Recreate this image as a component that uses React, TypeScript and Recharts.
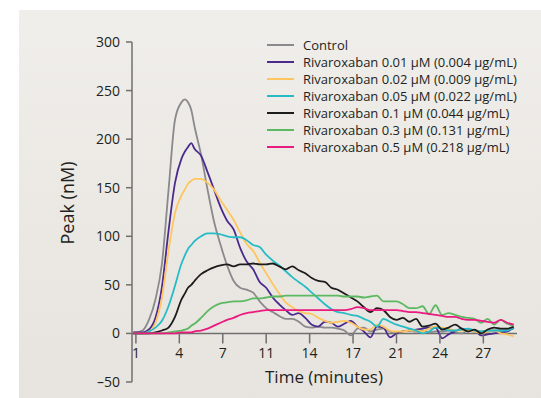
import { LineChart, Line, XAxis, YAxis, ReferenceLine, Legend } from 'recharts';

// time in minutes (samples)
const time = [
  0.8, 1, 1.5, 2, 2.5, 3, 3.5, 4, 4.5, 4.75, 5, 5.25,
  5.5, 6, 6.5, 7, 7.5, 8, 8.5, 9, 9.5, 10,
  10.5, 11, 11.5, 12, 12.5, 13, 13.5, 14, 14.5, 15,
  15.5, 16, 16.5, 17, 17.5, 18, 18.5, 19, 19.5, 20,
  20.5, 21, 21.5, 22, 22.5, 23, 23.5, 24, 24.5, 25,
  25.5, 26, 26.5, 27, 27.5, 28, 28.5, 29, 29.5, 30,
];

const control = [
  1, 1, 3, 14, 35, 72, 147, 220, 238, 241, 238, 230,
  213, 184, 148, 115, 91, 70, 54, 47, 45, 42,
  33, 26, 22, 18, 15, 15, 12, 7, 6, 7,
  6, 6, 5, 3, -2, 5, 6, 2, 4, 5,
  2, 0, 2, 3, 2, 3, 1, 2, 2, 3,
  1, 0, 3, 2, 2, 2, 3, 3, 4, 5,
];
const riva001 = [
  1, 1, 1, 4, 16, 48, 105, 155, 180, 187, 192, 196,
  190, 183, 166, 148, 130, 116, 107, 88, 74, 66,
  53, 47, 37, 30, 24, 19, 21, 16, 9, 7,
  12, 11, 7, 10, 13, 7, 2, -4, 7, 6,
  -4, 0, 2, 3, 4, 5, 6, 6, -5, -1,
  2, 5, 4, 3, -2, -1, 0, 1, 2, 6,
];
const riva002 = [
  0, 0, 0, 2, 11, 37, 85, 124, 142, 148, 154, 157,
  159, 159, 155, 148, 137, 127, 117, 104, 92, 85,
  73, 62, 51, 41, 32, 27, 23, 21, 20, 16,
  13, 11, 12, 13, 11, 7, 4, 4, 9, 7,
  3, 2, 2, 3, 3, 2, 5, 7, 6, 5,
  3, 3, 3, 2, 0, 2, 3, 0, -1, -3,
];
const riva005 = [
  0, 0, 0, 2, 6, 13, 28, 49, 72, 80, 87, 91,
  95, 100, 103, 103, 102, 100, 99, 99, 96, 91,
  89, 81, 75, 70, 64, 58, 53, 48, 42, 36,
  30, 25, 22, 21, 19, 18, 15, 12, 7, 15,
  12, 9, 7, 5, 3, 0, 2, 6, 5, 3,
  3, 4, 5, 3, 2, 3, 3, 3, 3, 6,
];
const riva01 = [
  0, 0, 0, 0, 1, 3, 6, 17, 35, 41, 47, 50,
  54, 61, 65, 68, 70, 71, 69, 71, 71, 72,
  71, 71, 72, 69, 66, 69, 65, 62, 57, 54,
  53, 47, 45, 41, 37, 33, 27, 22, 26, 24,
  17, 14, 16, 12, 15, 7, 8, 10, 4, 6,
  9, 5, 2, 4, 0, 4, 6, 5, 5, 7,
];
const riva03 = [
  0, 0, 0, 0, 0, 0, 1, 2, 3, 4, 5, 8,
  10, 16, 23, 28, 31, 32, 33, 33, 34, 36,
  36, 37, 38, 38, 39, 39, 39, 39, 39, 39,
  39, 39, 39, 38, 38, 38, 37, 38, 39, 33,
  33, 33, 30, 26, 26, 28, 20, 29, 19, 21,
  19, 17, 16, 15, 11, 15, 9, 14, 10, 8,
];
const riva05 = [
  0, 0, 0, 0, 0, 0, 0, 0, 1, 1, 1, 1,
  2, 3, 5, 8, 11, 14, 16, 19, 21, 22,
  23, 24, 24, 24, 24, 24, 24, 24, 24, 24,
  24, 24, 24, 24, 25, 27, 26, 24, 24, 24,
  24, 24, 23, 22, 22, 21, 20, 19, 18, 17,
  17, 15, 14, 14, 13, 12, 11, 14, 11, 9,
];

const seriesKeys = ['control', 'r001', 'r002', 'r005', 'r01', 'r03', 'r05'];
const seriesNames = [
  'Control',
  'Rivaroxaban 0.01 µM (0.004 µg/mL)',
  'Rivaroxaban 0.02 µM (0.009 µg/mL)',
  'Rivaroxaban 0.05 µM (0.022 µg/mL)',
  'Rivaroxaban 0.1 µM (0.044 µg/mL)',
  'Rivaroxaban 0.3 µM (0.131 µg/mL)',
  'Rivaroxaban 0.5 µM (0.218 µg/mL)',
];
const seriesColors = ['#8a8a8c', '#4b2a8e', '#ffc55e', '#25bcc6', '#1c1c1c', '#5db862', '#ea1a7f'];
const seriesValues = [control, riva001, riva002, riva005, riva01, riva03, riva05];

// ticks sit every 10/3 minutes, labels are the truncated minute
const xTicks = [1, 4.333, 7.667, 11, 14.333, 17.667, 21, 24.333, 27.667];
const yTicks = [-50, 0, 50, 100, 150, 200, 250, 300];

const data = time.map((t, i) => {
  const row: Record<string, number> = { t };
  seriesKeys.forEach((k, j) => { row[k] = seriesValues[j][i]; });
  return row;
});

const W = 541;
const H = 398;
const X_AXIS_H = 16;
const MARGIN = { top: 42, right: 24, left: 72, bottom: 0 };
const Y_MIN = -50;
const Y_MAX = 300;
const PLOT_H = H - MARGIN.top - MARGIN.bottom - X_AXIS_H;
const ZERO_OFFSET = (PLOT_H * (0 - Y_MIN)) / (Y_MAX - Y_MIN);
const AXIS = '#6f6f6f';
const INK = '#231f20';
const FONT = '"Open Sans", "Noto Sans", sans-serif';

const XTick = (props: any) => {
  const { x, y, payload } = props;
  const y0 = y - ZERO_OFFSET;
  return (
    <g>
      <line x1={x} x2={x} y1={y0} y2={y0 + 10} stroke={AXIS} strokeWidth={1.5} />
      <text x={x} y={y0 + 25} textAnchor="middle" fill={INK} fontSize={14} fontFamily={FONT}>
        {Math.floor(payload.value)}
      </text>
    </g>
  );
};

const LegendBox = () => (
  <div style={{ fontFamily: FONT, fontSize: 13, color: INK }}>
    {seriesNames.map((name, i) => (
      <div key={name} style={{ display: 'flex', alignItems: 'center', height: 17, whiteSpace: 'nowrap' }}>
        <span style={{ display: 'inline-block', width: 27, height: 2, background: seriesColors[i], marginRight: 9 }} />
        <span>{name}</span>
      </div>
    ))}
  </div>
);

export default function App() {
  return (
    <div style={{ position: 'absolute', left: 0, top: 0, width: W, height: H, background: '#fff' }}>
      <div
        style={{
          position: 'absolute', left: 19, top: 10, right: 0, bottom: 0,
          background: 'linear-gradient(180deg, #f0eeea 0%, #e7e4df 100%)',
        }}
      />
      <LineChart
        width={W}
        height={H}
        data={data}
        margin={MARGIN}
        style={{ position: 'absolute', left: 0, top: 0, fontFamily: FONT }}
      >
        <XAxis
          type="number"
          dataKey="t"
          domain={[0.7, 30.25]}
          ticks={xTicks}
          interval={0}
          height={X_AXIS_H}
          axisLine={false}
          tickLine={false}
          tickSize={0}
          tickMargin={0}
          tick={<XTick />}
          allowDataOverflow
          label={{
            content: () => (
              <text x={324} y={383} textAnchor="middle" fill={INK} fontSize={17} fontFamily={FONT}>
                Time (minutes)
              </text>
            ),
          }}
        />
        <YAxis
          type="number"
          domain={[Y_MIN, Y_MAX]}
          ticks={yTicks}
          width={60}
          interval={0}
          stroke={AXIS}
          strokeWidth={1.5}
          tickSize={6}
          tickMargin={6}
          tick={{ fill: INK, fontSize: 14 }}
          tickFormatter={(v: number) => (v < 0 ? `–${Math.abs(v)}` : `${v}`)}
          allowDataOverflow
          label={{
            content: () => (
              <text
                transform="translate(67,203) rotate(-90)"
                textAnchor="middle"
                dominantBaseline="central"
                fill={INK}
                fontSize={18}
                fontFamily={FONT}
              >
                Peak (nM)
              </text>
            ),
          }}
        />
        <ReferenceLine y={0} stroke={AXIS} strokeWidth={1.5} />
        {seriesKeys.map((k, i) => (
          <Line
            key={k}
            type="monotone"
            dataKey={k}
            name={seriesNames[i]}
            stroke={seriesColors[i]}
            strokeWidth={1.8}
            dot={false}
            isAnimationActive={false}
          />
        ))}
        <Legend
          layout="horizontal"
          verticalAlign="middle"
          align="center"
          content={() => <LegendBox />}
          wrapperStyle={{ left: 267, top: 36, width: 270 }}
        />
      </LineChart>
    </div>
  );
}
